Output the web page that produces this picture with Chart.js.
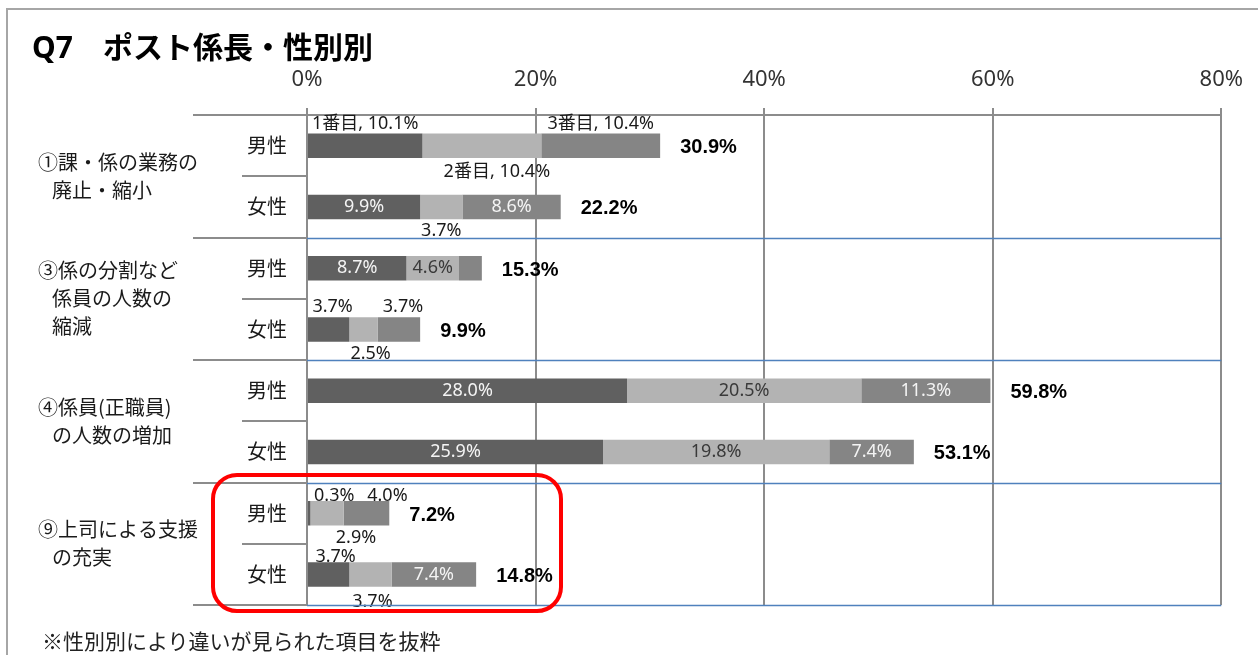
<!DOCTYPE html>
<html lang="ja">
<head>
<meta charset="utf-8">
<title>Q7 ポスト係長・性別別</title>
<script src="https://cdn.jsdelivr.net/npm/chart.js@4/dist/chart.umd.min.js"></script>
<style>
  body { margin: 0; background: #fff; }
  #wrap { position: relative; width: 1258px; height: 655px; overflow: hidden; font-family: 'Noto Sans CJK JP', sans-serif; }
  #title { position: absolute; left: 32px; top: 32px; font-family: 'Noto Sans', 'Noto Sans CJK JP', sans-serif; font-size: 30px; line-height: 1; font-weight: bold; color: #000; white-space: pre; }
  #note { position: absolute; left: 42px; top: 630px; font-size: 21px; line-height: 1; color: #222; white-space: pre; }
  #chart { position: absolute; left: 0; top: 0; }
</style>
</head>
<body>
<div id="wrap">
  <canvas id="chart" width="1258" height="655"></canvas>
  <div id="title">Q7　ポスト係長・性別別</div>
  <div id="note">※性別別により違いが見られた項目を抜粋</div>
</div>
<script>
// rows: 男性/女性 for each item
const categories = ['男性', '女性', '男性', '女性', '男性', '女性', '男性', '女性']
const groups = [
  ['①課・係の業務の', '廃止・縮小'],
  ['③係の分割など', '係員の人数の', '縮減'],
  ['④係員(正職員)', 'の人数の増加'],
  ['⑨上司による支援', 'の充実'],
]
const seriesNames = ['1番目', '2番目', '3番目']
const first = [10.1, 9.9, 8.7, 3.7, 28.0, 25.9, 0.3, 3.7]
const second = [10.4, 3.7, 4.6, 2.5, 20.5, 19.8, 2.9, 3.7]
const third = [10.4, 8.6, 2.0, 3.7, 11.3, 7.4, 4.0, 7.4]
const totals = [30.9, 22.2, 15.3, 9.9, 59.8, 53.1, 7.2, 14.8]
const xTicks = [0, 20, 40, 60, 80]

// where each value label goes: in / above / below / none
const labelPos = [
  ['above', 'in', 'in', 'above', 'in', 'in', 'above', 'above'],
  ['below', 'below', 'in', 'below', 'in', 'in', 'below', 'below'],
  ['above', 'in', 'none', 'above', 'in', 'in', 'above', 'in'],
]
// nudges [dx, dy] for crowded outside labels (row-series)
const labelShift = {
  '0-1': [15, 2],
  '3-0': [4, 0],
  '3-1': [7, 0],
  '3-2': [4, 0],
  '6-0': [25, 5],
  '6-1': [29, 0],
  '6-2': [21, 5],
  '7-0': [7, 5],
  '7-1': [2, 3],
}

const colors = ['#606060', '#b3b3b3', '#858585']
const gridColor = '#8c8c8c'
const blueLine = '#4f81bd'
const jpFont = "'Noto Sans CJK JP', sans-serif"
const numFont = "'Noto Sans', 'Noto Sans CJK JP', sans-serif"

const datasets = [first, second, third].map((data, i) => ({
  label: seriesNames[i],
  data,
  backgroundColor: colors[i],
  borderWidth: 0,
  categoryPercentage: 1,
  barPercentage: 0.4,
}))

const rowBoundary = (yScale, i) => {
  const n = categories.length
  if (i <= 0) return yScale.top
  if (i >= n) return yScale.bottom
  return (yScale.getPixelForValue(i - 1) + yScale.getPixelForValue(i)) / 2
}

const decorPlugin = {
  id: 'decor',
  beforeDatasetsDraw(chart) {
    const { ctx, chartArea } = chart
    const y = chart.scales.y
    ctx.save()
    // outer frame
    ctx.strokeStyle = '#a6a6a6'
    ctx.lineWidth = 2
    ctx.beginPath()
    ctx.moveTo(7, 655)
    ctx.lineTo(7, 9)
    ctx.lineTo(1258, 9)
    ctx.stroke()

    // row separators on the left side
    ctx.strokeStyle = gridColor
    ctx.lineWidth = 2
    for (let i = 0; i <= categories.length; i++) {
      const py = Math.round(rowBoundary(y, i))
      ctx.beginPath()
      ctx.moveTo(i % 2 === 0 ? 193 : 242, py)
      ctx.lineTo(chartArea.left, py)
      ctx.stroke()
    }
    ctx.restore()
  },
  afterDatasetsDraw(chart) {
    const { ctx, chartArea } = chart
    const y = chart.scales.y
    ctx.save()

    // value labels
    ctx.font = `18px ${numFont}`
    ctx.textAlign = 'center'
    ctx.textBaseline = 'middle'
    chart.data.datasets.forEach((ds, s) => {
      const meta = chart.getDatasetMeta(s)
      meta.data.forEach((bar, r) => {
        const pos = labelPos[s][r]
        if (pos === 'none') return
        const { x, y: cy, base, height } = bar.getProps(['x', 'y', 'base', 'height'], true)
        const v = ds.data[r]
        let text = `${v.toFixed(1)}%`
        if (r === 0) text = `${seriesNames[s]}, ${text}`
        const [dx, dy] = labelShift[`${r}-${s}`] || [0, 0]
        const px = (x + base) / 2 + dx
        let py = cy
        if (pos === 'in') {
          ctx.fillStyle = s === 1 ? '#3a3a3a' : '#f4f4f4'
        } else {
          ctx.fillStyle = '#1a1a1a'
          py = (pos === 'above' ? cy - height / 2 - 10 : cy + height / 2 + 12) + dy
        }
        ctx.fillText(text, px, py)
      })
    })

    // totals
    const lastMeta = chart.getDatasetMeta(chart.data.datasets.length - 1)
    ctx.font = "bold 20px 'Liberation Sans', Arial, sans-serif"
    ctx.textAlign = 'left'
    ctx.fillStyle = '#000'
    lastMeta.data.forEach((bar, r) => {
      const { x, y: cy } = bar.getProps(['x', 'y'], true)
      ctx.fillText(`${totals[r].toFixed(1)}%`, x + 20, cy + 2)
    })

    // group separators
    ctx.strokeStyle = blueLine
    ctx.lineWidth = 1.5
    for (let g = 1; g <= groups.length; g++) {
      const py = Math.round(rowBoundary(y, g * 2)) + 0.5
      ctx.beginPath()
      ctx.moveTo(chartArea.left, py)
      ctx.lineTo(chartArea.right, py)
      ctx.stroke()
    }

    // gender labels
    ctx.font = `20px ${jpFont}`
    ctx.textAlign = 'center'
    ctx.fillStyle = '#1a1a1a'
    categories.forEach((c, i) => {
      ctx.fillText(c, 267, y.getPixelForValue(i))
    })

    // item labels
    ctx.textAlign = 'left'
    groups.forEach((lines, g) => {
      const mid = (y.getPixelForValue(g * 2) + y.getPixelForValue(g * 2 + 1)) / 2
      const lh = 28
      const start = mid - ((lines.length - 1) * lh) / 2
      lines.forEach((line, k) => {
        ctx.fillText(line, k === 0 ? 38 : 52, start + k * lh)
      })
    })

    // highlight box
    ctx.strokeStyle = '#ff0000'
    ctx.lineWidth = 4
    ctx.beginPath()
    ctx.roundRect(213, 475, 348, 136, 24)
    ctx.stroke()
    ctx.restore()
  },
}

const config = {
  type: 'bar',
  data: {
    labels: categories,
    datasets,
  },
  options: {
    indexAxis: 'y',
    responsive: false,
    animation: false,
    layout: {
      padding: { left: 307, right: 35, top: 0, bottom: 50 },
    },
    scales: {
      x: {
        position: 'top',
        stacked: true,
        min: xTicks[0],
        max: xTicks[xTicks.length - 1],
        afterFit: (scale) => {
          scale.height = 115
        },
        ticks: {
          stepSize: xTicks[1] - xTicks[0],
          callback: (v) => `${v}%`,
          color: '#333',
          padding: 15,
          font: { family: "'Noto Sans', sans-serif", size: 22 },
        },
        grid: {
          color: gridColor,
          lineWidth: 2,
          tickLength: 7,
        },
        border: {
          color: gridColor,
          width: 2,
        },
      },
      y: {
        stacked: true,
        display: false,
      },
    },
    plugins: {
      legend: { display: false },
      tooltip: { enabled: false },
    },
  },
  plugins: [decorPlugin],
}

const ctx = document.getElementById('chart').getContext('2d')
new Chart(ctx, config)
</script>
</body>
</html>
